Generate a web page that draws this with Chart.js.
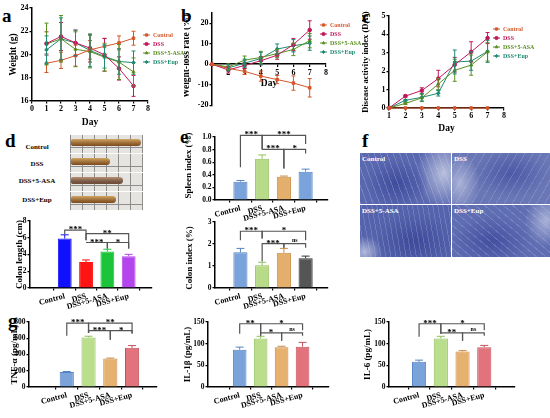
<!DOCTYPE html>
<html><head><meta charset="utf-8">
<script src="https://cdn.jsdelivr.net/npm/chart.js@4.4.1/dist/chart.umd.min.js"></script>
<style>
html,body{margin:0;padding:0;background:#fff;}
body{width:550px;height:418px;position:relative;overflow:hidden;}
canvas{position:absolute;}
.lt{position:absolute;font-family:'Liberation Serif',serif;font-weight:bold;font-size:19px;line-height:19px;color:#000;}
.pl{position:absolute;font-family:'Liberation Serif',serif;font-weight:bold;font-size:7px;color:#000;text-align:center;width:60px;line-height:8px;}
.row{position:absolute;left:70px;width:73px;height:18px;background-color:#e6e4e0;background-image:repeating-linear-gradient(90deg,#8d8d8d 0 1px,transparent 1px 12px),linear-gradient(0deg,transparent 0 5px,#8d8d8d 5px 6px,transparent 6px);}
.colon{position:absolute;left:1px;top:4px;height:7px;border-radius:2px 4px 4px 2px;background:linear-gradient(#d0a565,#9a6a35 60%,#7a4a20);}
.hq{position:absolute;overflow:hidden;}
.hl{position:absolute;left:2px;top:2px;font-family:'Liberation Serif',serif;font-weight:bold;font-size:7px;color:#fff;}
</style></head><body>
<div class="lt" style="left:2px;top:6px">a</div>
<div class="lt" style="left:181px;top:6px">b</div>
<div class="lt" style="left:362px;top:7px">c</div>
<div class="lt" style="left:5px;top:131px">d</div>
<div class="lt" style="left:180px;top:127px">e</div>
<div class="lt" style="left:362px;top:131px">f</div>
<div class="lt" style="left:8px;top:311px">g</div>

<div class="pl" style="left:7px;top:143px">Control</div>
<div class="pl" style="left:7px;top:160px">DSS</div>
<div class="pl" style="left:7px;top:177px">DSS+5-ASA</div>
<div class="pl" style="left:7px;top:196px">DSS+Eup</div>
<div class="row" style="top:135px"><div class="colon" style="width:70px"></div></div>
<div class="row" style="top:154px"><div class="colon" style="width:39px"></div></div>
<div class="row" style="top:173px"><div class="colon" style="width:52px;background:linear-gradient(#b89070,#7a5a4a 60%,#6a4a30)"></div></div>
<div class="row" style="top:192px"><div class="colon" style="width:45px"></div></div>

<div class="hq" style="left:360px;top:153px;width:91px;height:51px;background:repeating-linear-gradient(70deg,rgba(200,210,240,0.25) 0 1px,transparent 1px 6px),radial-gradient(ellipse 35% 50% at 40% 60%,#3f4c9c 0,#4f5ca8 60%,transparent 100%),radial-gradient(ellipse 30% 70% at 92% 40%,#b9c0dc 0,transparent 100%),#5a68b0;"><span class="hl">Control</span></div>
<div class="hq" style="left:452px;top:153px;width:98px;height:51px;background:repeating-linear-gradient(120deg,rgba(200,210,240,0.2) 0 1px,transparent 1px 7px),radial-gradient(ellipse 20% 60% at 8% 60%,#aab2d6 0,transparent 100%),radial-gradient(ellipse 40% 50% at 60% 40%,#4c59a6 0,transparent 100%),#6a77b6;"><span class="hl">DSS</span></div>
<div class="hq" style="left:360px;top:205px;width:91px;height:52px;background:repeating-linear-gradient(80deg,rgba(200,210,240,0.22) 0 1px,transparent 1px 5px),radial-gradient(ellipse 45% 55% at 60% 70%,#3e4a9a 0,transparent 100%),radial-gradient(ellipse 20% 30% at 5% 90%,#b0b8da 0,transparent 100%),#5563ac;"><span class="hl">DSS+5-ASA</span></div>
<div class="hq" style="left:452px;top:205px;width:98px;height:52px;background:repeating-linear-gradient(40deg,rgba(200,210,240,0.22) 0 1px,transparent 1px 6px),radial-gradient(ellipse 40% 50% at 40% 70%,#434fa0 0,transparent 100%),radial-gradient(ellipse 22% 50% at 96% 30%,#a9b1d6 0,transparent 100%),#5f6db2;"><span class="hl">DSS+Eup</span></div>

<script>
const F = "'Liberation Serif','Times New Roman',serif";
Chart.defaults.font.family = F;

// ---------- data ----------
const groups = ['Control', 'DSS', 'DSS+5-ASA', 'DSS+Eup'];
const days = [1, 2, 3, 4, 5, 6, 7];

// a: body weight (g)
const weightControl = [19.25, 19.5, 19.9, 20.4, 20.7, 21.0, 21.4];
const weightDSS     = [20.95, 21.55, 21.0, 20.55, 19.97, 18.8, 17.3];
const weightASA     = [20.9, 21.35, 20.45, 20.25, 19.77, 19.35, 18.5];
const weightEup     = [20.4, 21.35, 21.0, 20.35, 19.83, 19.4, 19.3];
const weightErrControl = [0.8, 0.7, 0.9, 0.8, 0.7, 0.6, 0.6];
const weightErrDSS     = [1.0, 1.2, 1.1, 1.2, 1.4, 1.0, 0.9];
const weightErrASA     = [1.8, 2.0, 1.5, 1.4, 1.2, 1.5, 1.2];
const weightErrEup     = [1.2, 1.8, 1.1, 1.4, 1.0, 1.1, 1.0];

// b: weight-loss rate (%)
const lossControl = [0, -2.0, -3.5, -5.8, -7.5, -9.2, -11.5];
const lossDSS     = [0, -2.8, -0.6, 1.7, 4.4, 9.6, 16.7];
const lossASA     = [0, -1.3, 2.0, 3.3, 5.2, 7.2, 11.5];
const lossEup     = [0, -1.8, 0.5, 2.8, 7.4, 9.0, 10.3];
const lossErrControl = [0, 1.0, 1.5, 2.5, 2.0, 3.5, 4.5];
const lossErrDSS     = [0, 1.5, 1.5, 2.0, 2.0, 3.0, 4.5];
const lossErrASA     = [0, 1.5, 2.0, 3.0, 2.0, 3.0, 3.5];
const lossErrEup     = [0, 1.5, 2.0, 3.0, 2.5, 3.0, 3.5];

// c: disease activity index
const daiControl = [0, 0, 0, 0, 0, 0, 0];
const daiDSS     = [0, 0.65, 0.95, 1.6, 2.35, 3.05, 3.8];
const daiASA     = [0, 0.25, 0.55, 1.3, 2.05, 2.33, 3.05];
const daiEup     = [0, 0.42, 0.58, 0.8, 2.5, 2.55, 3.08];
const daiErrControl = [0, 0, 0, 0, 0, 0, 0];
const daiErrDSS     = [0, 0.05, 0.15, 0.45, 0.4, 0.55, 0.3];
const daiErrASA     = [0, 0.05, 0.2, 0.3, 0.6, 0.55, 0.5];
const daiErrEup     = [0, 0.05, 0.2, 0.15, 0.65, 0.5, 0.6];

// bar panels
const colonLength = [5.9, 3.1, 4.35, 3.8];
const colonLengthErr = [0.45, 0.25, 0.28, 0.22];
const spleenIndex = [0.29, 0.655, 0.37, 0.45];
const spleenIndexErr = [0.02, 0.06, 0.01, 0.04];
const colonIndex = [1.62, 1.03, 1.6, 1.35];
const colonIndexErr = [0.18, 0.14, 0.2, 0.1];
const tnf = [185, 610, 350, 482];
const tnfErr = [6, 15, 6, 28];
const il1b = [86, 112, 92, 93];
const il1bErr = [6, 5, 2, 10];
const il6 = [58, 112, 82, 92];
const il6Err = [4, 5, 2, 4];

// significance brackets: [from, to, level, leftLegEnd, rightLegEnd, label]
const sigColonLength = [[1,2,6.9,6.4,5.7,'***'],[2,4,6.5,5.7,4.72,'**'],[2,3,5.43,5.43,4.72,'***'],[3,4,5.43,4.72,4.72,'*']];
const sigSpleen = [[1,2,1.026,0.52,0.8,'***'],[2,4,1.026,0.8,0.89,'***'],[2,3,0.805,0.805,0.5,'***'],[3,4,0.805,0.5,0.74,'*']];
const sigColonIndex = [[1,2,2.58,2.17,2.25,'***'],[2,4,2.58,2.25,2.17,'*'],[2,3,2.02,1.2,1.83,'***'],[3,4,2.02,1.83,1.83,'ns']];
const sigTnf = [[1,2,787,631,664,'***'],[2,4,787,664,660,'**'],[2,3,693,664,582,'***'],[3,4,693,582,660,'*']];
const sigIl1b = [[1,2,146,123,118,'**'],[2,4,146,118,131,'*'],[2,3,125,125,107,'*'],[3,4,125,107,118,'ns']];
const sigIl6 = [[1,2,146,116,123,'***'],[2,4,146,123,131,'*'],[2,3,125,125,107,'**'],[3,4,125,107,118,'ns']];

// ---------- styles ----------
const lineColors = ['#d4572a', '#c0185a', '#5a8f20', '#1f8a70'];
const pointStyles = ['rect', 'circle', 'triangle', 'rectRot'];

// ---------- helpers ----------
function mkCanvas(rect, m) {
  const c = document.createElement('canvas');
  const w = rect.r - rect.l + m.L + m.R, h = rect.b - rect.t + m.T + m.B;
  c.width = w; c.height = h;
  c.style.left = (rect.l - m.L) + 'px'; c.style.top = (rect.t - m.T) + 'px';
  c.style.width = w + 'px'; c.style.height = h + 'px';
  document.body.appendChild(c);
  return c;
}
const errPlugin = {
  id: 'errbars',
  afterDatasetsDraw(chart) {
    const ctx = chart.ctx, ys = chart.scales.y;
    chart.data.datasets.forEach((d, di) => {
      if (!d.err) return;
      const meta = chart.getDatasetMeta(di);
      ctx.save();
      ctx.lineWidth = d.errWidth || 1;
      meta.data.forEach((el, i) => {
        const e = d.err[i]; if (!e) return;
        const v = d.data[i].y;
        const col = Array.isArray(d.errColor) ? d.errColor[i] : (d.errColor || d.borderColor);
        ctx.strokeStyle = col;
        const x = el.x, cw = d.capW || 2;
        const yt = ys.getPixelForValue(v + e);
        const yb = d.errUp ? ys.getPixelForValue(v) : ys.getPixelForValue(v - e);
        ctx.beginPath();
        ctx.moveTo(x, yt); ctx.lineTo(x, yb);
        ctx.moveTo(x - cw, yt); ctx.lineTo(x + cw, yt);
        if (!d.errUp) { ctx.moveTo(x - cw, yb); ctx.lineTo(x + cw, yb); }
        ctx.stroke();
      });
      ctx.restore();
    });
  }
};
function yTitlePlugin(text, dx, dy, size) {
  return {
    id: 'ytitle',
    afterDraw(chart) {
      const ctx = chart.ctx, a = chart.chartArea;
      ctx.save();
      ctx.translate(a.left + dx, (a.top + a.bottom) / 2 + dy);
      ctx.rotate(-Math.PI / 2);
      ctx.fillStyle = '#000';
      ctx.font = 'bold ' + size + 'px ' + F;
      ctx.textAlign = 'center'; ctx.textBaseline = 'middle';
      ctx.fillText(text, 0, 0);
      ctx.restore();
    }
  };
}
function legendPlugin(dx, dy, step) {
  return {
    id: 'lg',
    afterDraw(chart) {
      const ctx = chart.ctx, a = chart.chartArea;
      chart.data.datasets.forEach((d, i) => {
        const x = a.right + dx, y = a.top + dy + i * step;
        ctx.save();
        ctx.strokeStyle = d.borderColor; ctx.fillStyle = d.borderColor; ctx.lineWidth = 1;
        ctx.beginPath(); ctx.moveTo(x, y); ctx.lineTo(x + 7, y); ctx.stroke();
        Chart.helpers.drawPoint(ctx, {pointStyle: d.pointStyle, radius: 1.6, rotation: 0, borderWidth: 1}, x + 3.5, y);
        ctx.font = 'bold 6px ' + F; ctx.textBaseline = 'middle'; ctx.textAlign = 'left';
        ctx.fillText(d.label, x + 10, y + 0.5);
        ctx.restore();
      });
    }
  };
}
function sigPlugin(items) {
  return {
    id: 'sig',
    afterDatasetsDraw(chart) {
      const ctx = chart.ctx, xs = chart.scales.x, ys = chart.scales.y;
      ctx.save();
      ctx.strokeStyle = '#555'; ctx.lineWidth = 1.2; ctx.fillStyle = '#000';
      ctx.textAlign = 'center'; ctx.textBaseline = 'alphabetic';
      items.forEach(b => {
        const x1 = xs.getPixelForValue(b[0]), x2 = xs.getPixelForValue(b[1]);
        const y = ys.getPixelForValue(b[2]), ya = ys.getPixelForValue(b[3]), yb = ys.getPixelForValue(b[4]);
        ctx.beginPath(); ctx.moveTo(x1, ya); ctx.lineTo(x1, y); ctx.lineTo(x2, y); ctx.lineTo(x2, yb); ctx.stroke();
        if (b[5] === 'ns') { ctx.font = 'bold 6px ' + F; ctx.fillText('ns', (x1 + x2) / 2, y - 2); }
        else { ctx.font = 'bold 9px ' + F; ctx.fillText(b[5], (x1 + x2) / 2, y + 2); }
      });
      ctx.restore();
    }
  };
}
const axBorder = {display: true, color: '#000', width: 1.5};
const axGrid = {display: true, drawOnChartArea: false, drawTicks: true, tickLength: 2.5, color: '#000', lineWidth: 1.2};
function yScale(min, max, step, L, fmt, fs) {
  return {type: 'linear', position: 'left', min: min, max: max,
    ticks: {stepSize: step, color: '#000', font: {family: F, weight: 'bold', size: fs || 8}, padding: 1, callback: fmt || (v => v)},
    border: axBorder, grid: axGrid, title: {display: false},
    afterFit: s => { s.width = L; }};
}
function xDays(min, max, B, pos, hideFirst) {
  return {type: 'linear', position: pos || 'bottom', min: min, max: max,
    ticks: {stepSize: 1, color: '#000', font: {family: F, weight: 'bold', size: 8}, padding: 1,
      callback: v => (hideFirst && v === min) ? '' : v},
    border: axBorder, grid: axGrid,
    title: {display: true, text: 'Day', color: '#000', font: {family: F, weight: 'bold', size: 9.5}, padding: {top: 0, bottom: 1}},
    afterFit: s => { s.height = B; }};
}
function xGroups(min, max, B) {
  return {type: 'linear', position: 'bottom', min: min, max: max,
    afterBuildTicks: s => { s.ticks = groups.map((g, i) => ({value: i + 1})); },
    ticks: {autoSkip: false, minRotation: 15, maxRotation: 15, color: '#000', font: {family: F, weight: 'bold', size: 8}, padding: 1,
      callback: (v, i) => groups[i]},
    border: axBorder, grid: axGrid,
    afterFit: s => { s.height = B; }};
}
function lineChart(rect, m, xOpt, yOpt, vals, errs, lg, yt) {
  const cv = mkCanvas(rect, m);
  return new Chart(cv, {
    type: 'line',
    data: {datasets: vals.map((v, k) => ({
      label: groups[k], data: days.map((d, i) => ({x: d, y: v[i]})), err: errs[k],
      borderColor: lineColors[k], backgroundColor: lineColors[k], borderWidth: 1,
      pointRadius: 1.8, pointStyle: pointStyles[k], pointBorderWidth: 1, tension: 0, clip: 8}))},
    options: {responsive: false, animation: false, events: [],
      layout: {padding: {left: 0, top: m.T, right: m.R, bottom: m.padB || 0}},
      plugins: {legend: {display: false}, tooltip: {enabled: false}},
      scales: {x: xOpt, y: yOpt}},
    plugins: [errPlugin, legendPlugin(lg[0], lg[1], lg[2]), yTitlePlugin(yt[0], yt[1], yt[2], yt[3])]
  });
}
function barChart(rect, m, xr, yOpt, vals, errs, fills, borders, sig, yt) {
  const cv = mkCanvas(rect, m);
  return new Chart(cv, {
    type: 'bar',
    data: {datasets: [{data: vals.map((v, i) => ({x: i + 1, y: v})), err: errs, errUp: true, capW: 4,
      errColor: borders, backgroundColor: fills, borderColor: borders, borderWidth: 1,
      barPercentage: 0.65, categoryPercentage: 1}]},
    options: {responsive: false, animation: false, events: [],
      layout: {padding: {left: 0, top: m.T, right: m.R, bottom: 0}},
      plugins: {legend: {display: false}, tooltip: {enabled: false}},
      scales: {x: xGroups(xr[0], xr[1], m.B), y: yOpt}},
    plugins: [errPlugin, sigPlugin(sig), yTitlePlugin(yt[0], yt[1], yt[2], yt[3])]
  });
}

// ---------- panel a ----------
lineChart({l: 32, t: 8, r: 148, b: 101}, {L: 30, T: 6, R: 42, B: 28},
  xDays(0, 8, 28), yScale(16, 24, 2, 30),
  [weightControl, weightDSS, weightASA, weightEup],
  [weightErrControl, weightErrDSS, weightErrASA, weightErrEup],
  [-5, 27, 9], ['Weight (g)', -18, 0, 9.5]);

// ---------- panel b ----------
lineChart({l: 212, t: 13, r: 326, b: 107}, {L: 28, T: 6, R: 44, B: 4, padB: 4},
  xDays(1, 8, 26, {y: 0}, true), yScale(-20, 25, 5, 28),
  [lossControl, lossDSS, lossASA, lossEup],
  [lossErrControl, lossErrDSS, lossErrASA, lossErrEup],
  [-6, 12, 9], ['Weight-loss rate (%)', -25, -3, 9.5]);

// ---------- panel c ----------
lineChart({l: 389, t: 16, r: 504, b: 108}, {L: 27, T: 6, R: 44, B: 27},
  xDays(1, 8, 27), yScale(0, 5, 1, 27),
  [daiControl, daiDSS, daiASA, daiEup],
  [daiErrControl, daiErrDSS, daiErrASA, daiErrEup],
  [-11, 13, 9], ['Disease activity index (DAI)', -23, 0, 8.5]);

// ---------- panel d: colon length ----------
barChart({l: 30, t: 221, r: 152, b: 288}, {L: 26, T: 8, R: 6, B: 28}, [0.085, 4.38],
  yScale(0, 8, 2, 26, null, 7.5), colonLength, colonLengthErr,
  ['#1010ff', '#ff1414', '#1cc43a', '#b444ec'], ['#1010ff', '#ff1414', '#1cc43a', '#b444ec'],
  sigColonLength, ['Colon length (cm)', -10, 0, 9]);

// ---------- panel e: spleen index ----------
barChart({l: 215, t: 137, r: 328, b: 200}, {L: 30, T: 12, R: 6, B: 22}, [0.48, 4.38],
  yScale(0, 1, 0.2, 30, v => v.toFixed(1), 7.5), spleenIndex, spleenIndexErr,
  ['#79a3da', '#b8db8a', '#e4ae6d', '#79a3da'], ['#5583c4', '#8fc05c', '#c98d46', '#5583c4'],
  sigSpleen, ['Spleen index (%)', -26, -3, 9]);

// ---------- panel e: colon index ----------
barChart({l: 215, t: 222, r: 328, b: 288}, {L: 30, T: 6, R: 6, B: 28}, [0.48, 4.38],
  yScale(0, 3, 1, 30, null, 7.5), colonIndex, colonIndexErr,
  ['#79a3da', '#b8db8a', '#e4ae6d', '#555555'], ['#5583c4', '#8fc05c', '#c98d46', '#333333'],
  sigColonIndex, ['Colon index (%)', -25, 3, 9]);

// ---------- panel g ----------
barChart({l: 29, t: 322, r: 157, b: 387}, {L: 26, T: 10, R: 6, B: 30}, [0, 4.41],
  yScale(0, 800, 200, 26, null, 7.5), tnf, tnfErr,
  ['#7aa3da', '#bade8c', '#e6b06e', '#e2737d'], ['#5583c4', '#8fc05c', '#c98d46', '#c4505c'],
  sigTnf, ['TNF-α (pg/mL)', -14, 0, 9]);

barChart({l: 208, t: 322, r: 329, b: 387}, {L: 26, T: 10, R: 6, B: 30}, [0.21, 4.54],
  yScale(0, 150, 50, 26, null, 7.5), il1b, il1bErr,
  ['#7aa3da', '#bade8c', '#e6b06e', '#e2737d'], ['#5583c4', '#8fc05c', '#c98d46', '#c4505c'],
  sigIl1b, ['IL-1β (pg/mL)', -20, 0, 9]);

barChart({l: 389, t: 322, r: 515, b: 387}, {L: 26, T: 10, R: 6, B: 30}, [0.34, 4.69],
  yScale(0, 150, 50, 26, null, 7.5), il6, il6Err,
  ['#7aa3da', '#bade8c', '#e6b06e', '#e2737d'], ['#5583c4', '#8fc05c', '#c98d46', '#c4505c'],
  sigIl6, ['IL-6 (pg/mL)', -21, 0, 9]);
</script>
</body></html>
